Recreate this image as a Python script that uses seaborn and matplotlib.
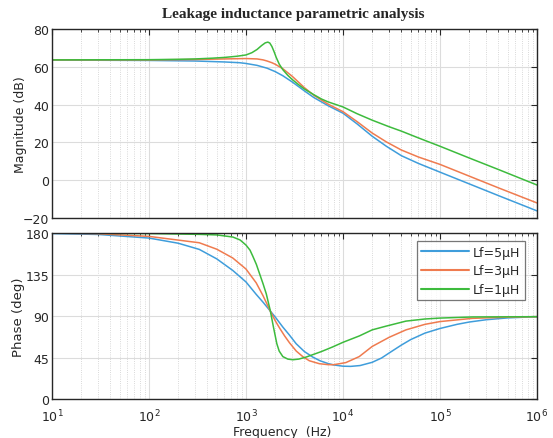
import matplotlib
matplotlib.use("Agg")
import matplotlib.pyplot as plt
import matplotlib.ticker as mticker
import seaborn as sns
import numpy as np

# ---- data ----
series_labels = ["Lf=5μH", "Lf=3μH", "Lf=1μH"]
series_colors = ["#3f9ddb", "#ef7b4f", "#3dbb3d"]

# magnitude (dB)
mag_f_5uH = [10, 100, 300, 600, 860, 1000, 1300, 1650, 2000, 2400, 3000, 3500, 4000, 5000, 7000,
             1e4, 1.4e4, 2e4, 2.8e4, 4e4, 6e4, 1e5, 2e5, 4e5, 1e6]
mag_5uH = [63.6, 63.4, 63.1, 62.6, 62.2, 61.8, 60.8, 59.3, 57.5, 55.3, 52.0, 49.5, 47.3, 43.8, 39.5,
           35.5, 29.8, 23.3, 18.0, 13.0, 8.9, 4.3, -1.9, -8.1, -16.2]

mag_f_3uH = [10, 100, 300, 600, 1000, 1300, 1500, 1650, 1850, 2000, 2400, 3000, 3500, 4000, 5000, 7000,
             1e4, 1.4e4, 2e4, 2.8e4, 4e4, 6e4, 1e5, 2e5, 4e5, 1e6]
mag_3uH = [63.7, 63.7, 63.9, 64.2, 64.4, 64.2, 63.7, 63.1, 62.2, 61.4, 59.0, 55.0, 51.8, 49.0, 45.0, 40.3,
           36.3, 31.0, 25.0, 20.3, 16.0, 12.3, 8.4, 2.2, -4.0, -12.0]

mag_f_1uH = [10, 100, 200, 300, 450, 600, 800, 1000, 1150, 1300, 1450, 1580, 1680, 1760, 1850, 1950,
             2050, 2200, 2400, 2700, 3000, 3500, 4000, 5000, 6000, 7000, 1e4, 1.4e4, 2e4, 3e4, 4e4,
             6e4, 1e5, 2e5, 4e5, 1e6]
mag_1uH = [63.7, 63.8, 64.0, 64.2, 64.6, 65.0, 65.6, 66.3, 67.5, 69.2, 71.3, 72.7, 73.1, 72.6, 70.8, 68.0,
           65.0, 61.5, 58.5, 55.5, 53.3, 50.5, 48.3, 45.3, 43.0, 41.5, 38.8, 35.2, 31.8, 28.3, 26.0,
           22.4, 18.0, 11.8, 5.7, -2.5]

# phase (deg)
ph_f_5uH = [10, 30, 100, 200, 330, 500, 730, 1000, 1275, 1500, 1780, 2000, 2400, 2800, 3290, 4000,
            4880, 5800, 7000, 8000, 1e4, 1.2e4, 1.5e4, 2e4, 2.5e4, 3e4, 4e4, 5e4, 7e4, 1e5, 1.5e5,
            2e5, 3e5, 5e5, 1e6]
ph_5uH = [179.5, 178.5, 174.6, 169.0, 162.3, 152.0, 139.5, 127.0, 113.5, 105.0, 95.5, 89.0, 78.0, 69.5,
          60.0, 51.5, 45.5, 41.5, 38.5, 37.0, 35.6, 35.4, 36.3, 39.8, 44.5, 50.0, 58.5, 64.5, 71.5, 76.5,
          81.0, 83.5, 86.0, 88.0, 89.3]

ph_f_3uH = [10, 30, 100, 330, 500, 730, 1000, 1275, 1500, 1780, 2000, 2220, 2500, 2810, 3300, 3850,
            4500, 5710, 7000, 8000, 1.07e4, 1.47e4, 2e4, 3e4, 4.46e4, 7e4, 1e5, 2.16e5, 5e5, 1e6]
ph_3uH = [180.0, 179.3, 176.4, 169.5, 162.5, 153.0, 141.0, 126.0, 112.0, 95.5, 85.0, 77.0, 68.5, 61.0,
          52.0, 46.0, 41.5, 38.3, 37.3, 37.2, 39.5, 46.0, 57.0, 67.0, 75.0, 81.0, 84.0, 87.5, 88.8, 89.3]

ph_f_1uH = [10, 100, 330, 500, 733, 870, 1000, 1100, 1175, 1280, 1380, 1500, 1620, 1780, 1920, 2080,
            2200, 2400, 2700, 3040, 3500, 4170, 5000, 6000, 7830, 1e4, 1.48e4, 2e4, 2.77e4, 4.46e4,
            7e4, 1e5, 2.16e5, 1e6]
ph_1uH = [180.0, 179.5, 178.6, 178.0, 175.7, 172.5, 167.0, 161.5, 155.0, 146.0, 136.0, 125.0, 114.0,
          96.0, 78.0, 60.0, 52.0, 46.0, 43.3, 42.6, 43.3, 45.5, 48.5, 51.5, 56.5, 61.5, 68.5, 75.0,
          79.0, 84.5, 86.8, 87.8, 89.0, 89.3]

mag_sets = [(mag_f_5uH, mag_5uH), (mag_f_3uH, mag_3uH), (mag_f_1uH, mag_1uH)]
ph_sets = [(ph_f_5uH, ph_5uH), (ph_f_3uH, ph_3uH), (ph_f_1uH, ph_1uH)]

sns.set_style("white")
plt.rcParams['font.family'] = ['DejaVu Sans']

fig = plt.figure(figsize=(5.53, 4.39), dpi=100)
ax_mag = fig.add_axes([0.094, 0.501, 0.877, 0.4305])
ax_ph = fig.add_axes([0.094, 0.0888, 0.877, 0.378])


def style_axis(ax):
    ax.set_xscale('log')
    ax.set_xlim(10, 1e6)
    ax.xaxis.set_major_locator(mticker.LogLocator(base=10, numticks=10))
    ax.xaxis.set_minor_locator(mticker.LogLocator(base=10, subs=np.arange(2, 10), numticks=10))
    ax.xaxis.set_minor_formatter(mticker.NullFormatter())
    ax.grid(True, which='major', color='#dcdcdc', linewidth=0.8, linestyle='-')
    ax.grid(True, which='minor', axis='x', color='#cccccc', linewidth=0.6, linestyle=':')
    ax.tick_params(which='both', direction='in', top=True, right=True, colors='#262626',
                   labelsize=9, labelcolor='#262626')
    ax.tick_params(which='major', length=4)
    ax.tick_params(which='minor', length=2)
    ax.tick_params(axis='y', pad=2)
    ax.tick_params(axis='x', pad=6)
    for sp in ax.spines.values():
        sp.set_color('#262626')
        sp.set_linewidth(1.0)


for (f, v), c, lab in zip(mag_sets, series_colors, series_labels):
    sns.lineplot(x=f, y=v, ax=ax_mag, color=c, linewidth=1.1, label=lab, legend=False)
for (f, v), c, lab in zip(ph_sets, series_colors, series_labels):
    sns.lineplot(x=f, y=v, ax=ax_ph, color=c, linewidth=1.1, label=lab, legend=False)

style_axis(ax_mag)
style_axis(ax_ph)

ax_mag.set_ylim(-20, 80)
ax_mag.set_yticks([-20, 0, 20, 40, 60, 80])
ax_mag.tick_params(labelbottom=False)
ax_mag.set_ylabel("Magnitude (dB)", fontsize=9, color='#262626')
ax_mag.yaxis.set_label_coords(-0.052, 0.5)

ax_ph.set_ylim(0, 180)
ax_ph.set_yticks([0, 45, 90, 135, 180])
ax_ph.set_ylabel("Phase (deg)", fontsize=9.5, color='#262626')
ax_ph.yaxis.set_label_coords(-0.055, 0.5)
ax_ph.set_xlabel("Frequency  (Hz)", fontsize=9, color='#262626')
ax_ph.xaxis.set_label_coords(0.475, -0.155)
ax_ph.xaxis.label.set_va('top')

leg = ax_ph.legend(loc='upper right', bbox_to_anchor=(0.98, 0.965), fontsize=9,
                   handlelength=3.8, frameon=True, fancybox=False, borderpad=0.35,
                   labelspacing=0.45, handletextpad=0.35, borderaxespad=0.2)
leg.get_frame().set_edgecolor('#555555')
leg.get_frame().set_linewidth(0.9)
for line in leg.get_lines():
    line.set_linewidth(1.5)

fig.text(0.53, 0.968, "Leakage inductance parametric analysis", ha='center', va='center',
         fontsize=11, fontweight='bold', family='Liberation Serif')

fig.savefig("out.png", dpi=100)
